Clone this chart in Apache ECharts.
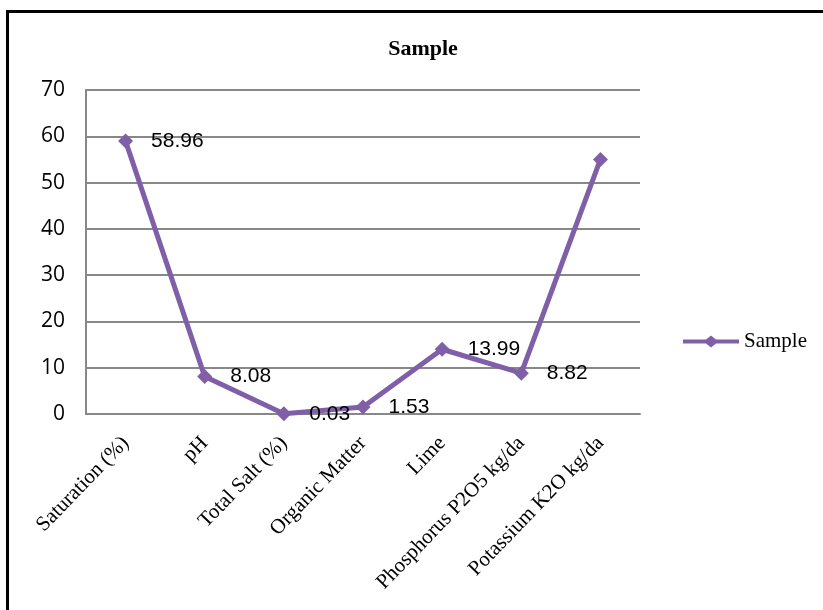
<!DOCTYPE html>
<html><head><meta charset="utf-8">
<script src="https://cdn.jsdelivr.net/npm/echarts@6/dist/echarts.min.js"></script>
<style>
html,body{margin:0;padding:0;background:#fff;overflow:hidden}
#frame{position:absolute;left:6px;top:10px;width:900px;height:700px;border:3px solid #000;box-sizing:border-box}
#c{position:absolute;left:0;top:0;width:823px;height:610px}
</style></head><body>
<div id="frame"></div>
<div id="c"></div>
<script>
const categories = ['Saturation (%)','pH','Total Salt (%)','Organic Matter','Lime','Phosphorus P2O5 kg/da','Potassium K2O kg/da'];
const sampleValues = [58.96, 8.08, 0.03, 1.53, 13.99, 8.82, 55];
const sampleLabels = ['58.96','8.08','0.03','1.53','13.99','8.82',''];
const yTicks = {min:0, max:70, interval:10};

const chart = echarts.init(document.getElementById('c'));
const color = '#7f60a8';
chart.setOption({
  animation:false,
  title:{text:'Sample', left:418, top:33, textAlign:'center',
    textStyle:{fontFamily:'Liberation Serif', fontWeight:'bold', fontSize:22, color:'#000'}},
  legend:{left:678, top:326, itemWidth:56, itemHeight:12, itemGap:0,
    data:[{name:'Sample', icon:'path://M0,4 L23,4 L28,0 L33,4 L56,4 L56,8 L33,8 L28,12 L23,8 L0,8 Z'}],
    textStyle:{fontFamily:'Liberation Serif', fontSize:21, color:'#000'}},
  grid:{left:86, right:183, top:90, bottom:196},
  xAxis:{type:'category', data:categories, boundaryGap:true,
    axisLine:{lineStyle:{color:'#888', width:2}}, axisTick:{show:false},
    axisLabel:{rotate:46, interval:0, margin:26, fontFamily:'Liberation Serif', fontSize:21, color:'#000'}},
  yAxis:{type:'value', min:yTicks.min, max:yTicks.max, interval:yTicks.interval,
    axisLine:{show:true, lineStyle:{color:'#888', width:2}}, axisTick:{show:false},
    splitLine:{lineStyle:{color:'#888', width:2}},
    axisLabel:{margin:21, fontFamily:'Open Sans', fontSize:21, color:'#000'}},
  series:[{name:'Sample', type:'line', data:sampleValues,
    symbol:'diamond', symbolSize:15, lineStyle:{color:color, width:5},
    itemStyle:{color:color},
    label:{show:true, position:'right', distance:18, fontFamily:'Liberation Sans', fontSize:21, color:'#000',
      formatter:p=>sampleLabels[p.dataIndex]}}]
});
</script></body></html>
